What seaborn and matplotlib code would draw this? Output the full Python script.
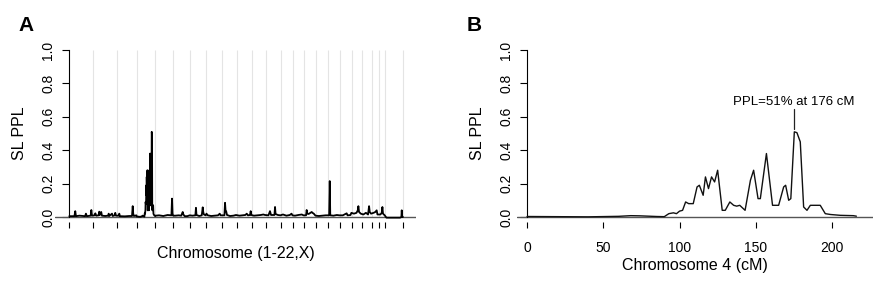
import numpy as np
import matplotlib
matplotlib.use("Agg")
import matplotlib.pyplot as plt
import seaborn as sb

chrom_len = [281, 274, 234, 216, 214, 195, 184, 187, 176, 176, 167, 176,
             137, 132, 140, 137, 144, 137, 117, 117, 77, 78, 207]

# chromosome 4 profile (panel B)
chr4_cm = [0, 20, 40, 60, 68, 74, 85, 90, 93, 96,
           98, 100, 102, 104, 106, 109, 111.5, 113, 115.5, 117,
           119, 121, 123, 125, 128, 130, 133, 135.5, 137.5, 139.5,
           143, 146.5, 148.6, 151.5, 153, 157, 161, 165, 168.3, 169.6,
           171.6, 173, 175.3, 177, 179.2, 181.4, 183.6, 185.8, 192.3, 195.6,
           199, 205.5, 214, 216]
chr4_ppl = [0.003, 0.002, 0.001, 0.004, 0.008, 0.007, 0.003, 0.002, 0.02, 0.025,
            0.02, 0.035, 0.04, 0.09, 0.08, 0.08, 0.18, 0.19, 0.13, 0.24,
            0.17, 0.24, 0.21, 0.28, 0.04, 0.04, 0.09, 0.07, 0.065, 0.07,
            0.04, 0.22, 0.28, 0.11, 0.11, 0.38, 0.07, 0.07, 0.18, 0.19,
            0.10, 0.11, 0.51, 0.505, 0.45, 0.06, 0.04, 0.07, 0.07, 0.02,
            0.015, 0.01, 0.008, 0.005]

# genome-wide scan, all chromosomes except 4 (genome cM, PPL)
gw_pos = [0, 60, 70, 78, 120, 185, 195, 205, 250, 258, 266,
          295, 305, 315, 343, 351, 358, 374, 382, 420, 455, 461, 468, 500, 508, 530, 538, 546,
          578, 585, 592, 650, 700, 734, 742, 748, 756, 785,
          1010, 1050, 1100, 1150, 1195, 1202, 1208, 1215,
          1240, 1280, 1310, 1320, 1327, 1335, 1350, 1380, 1410,
          1440, 1475, 1482, 1488, 1520, 1550, 1561, 1567, 1575, 1595,
          1605, 1620, 1660, 1700, 1740, 1760, 1770,
          1815, 1822, 1828, 1835, 1845, 1880, 1920, 1950,
          1990, 2030, 2060, 2076, 2090, 2114, 2122, 2130,
          2160, 2200, 2240, 2270, 2290,
          2330, 2348, 2360, 2400, 2407, 2413, 2440, 2470,
          2500, 2540, 2580, 2600, 2610,
          2640, 2680, 2720, 2740,
          2770, 2777, 2785, 2800, 2836, 2845, 2860, 2880,
          2920, 2960, 3000, 3020,
          3040, 3047, 3053, 3090, 3130, 3160,
          3200, 3245, 3255, 3290, 3300,
          3330, 3360, 3375, 3382, 3390, 3410,
          3440, 3470, 3495, 3507, 3515, 3530,
          3560, 3580, 3596, 3605,
          3640, 3655, 3663, 3670, 3690,
          3710, 3800, 3870, 3885, 3889, 3895, 3903]
gw_ppl = [0.005, 0.005, 0.035, 0.005, 0.008, 0.005, 0.02, 0.005, 0.008, 0.042, 0.008,
          0.01, 0.022, 0.008, 0.01, 0.032, 0.012, 0.03, 0.008, 0.006, 0.008, 0.02, 0.006, 0.02, 0.006, 0.01, 0.025, 0.008,
          0.008, 0.02, 0.005, 0.004, 0.006, 0.006, 0.065, 0.02, 0.006, 0.01,
          0.008, 0.01, 0.006, 0.012, 0.01, 0.11, 0.02, 0.008,
          0.008, 0.01, 0.008, 0.02, 0.03, 0.015, 0.005, 0.005, 0.01,
          0.008, 0.01, 0.055, 0.012, 0.006, 0.01, 0.058, 0.03, 0.015, 0.01,
          0.02, 0.01, 0.006, 0.008, 0.01, 0.02, 0.01,
          0.01, 0.085, 0.04, 0.035, 0.012, 0.006, 0.008, 0.012,
          0.008, 0.01, 0.012, 0.02, 0.01, 0.012, 0.035, 0.012,
          0.008, 0.01, 0.012, 0.015, 0.012,
          0.01, 0.035, 0.012, 0.012, 0.06, 0.018, 0.012, 0.01,
          0.015, 0.008, 0.012, 0.02, 0.01,
          0.008, 0.012, 0.015, 0.01,
          0.01, 0.042, 0.02, 0.018, 0.03, 0.025, 0.02, 0.008,
          0.006, 0.008, 0.01, 0.01,
          0.01, 0.215, 0.01, 0.008, 0.012, 0.01,
          0.01, 0.022, 0.01, 0.012, 0.025,
          0.02, 0.025, 0.04, 0.065, 0.03, 0.02,
          0.015, 0.025, 0.015, 0.065, 0.03, 0.02,
          0.025, 0.03, 0.04, 0.015,
          0.015, 0.025, 0.06, 0.02, 0.01,
          -0.004, -0.004, -0.004, 0.0, 0.04, 0.0, 0.0]

peak_cm = 175
peak_label = "PPL=51% at 176 cM"

bounds = np.concatenate([[0], np.cumsum(chrom_len)])
chr4_start = bounds[3]

# merge chr4 into genome-wide scan
all_pos = np.array(gw_pos + [p + chr4_start for p in chr4_cm], dtype=float)
all_ppl = np.array(gw_ppl + chr4_ppl, dtype=float)
order = np.argsort(all_pos, kind="stable")
all_pos, all_ppl = all_pos[order], all_ppl[order]

sb.set_style("white")
plt.rcParams['font.family'] = ['Liberation Sans', 'DejaVu Sans']
plt.rcParams['text.color'] = 'black'
plt.rcParams['axes.labelcolor'] = 'black'
plt.rcParams['xtick.color'] = 'black'
plt.rcParams['ytick.color'] = 'black'

W, H = 892, 288
fig = plt.figure(figsize=(W / 100, H / 100), dpi=100)
bot, top = 222, 44
axA = fig.add_axes([55 / W, 1 - bot / H, (416 - 55) / W, (bot - top) / H])
axB = fig.add_axes([517 / W, 1 - bot / H, (873 - 517) / W, (bot - top) / H])

ylim = (-(bot - 217) / 167, 1 + (50 - top) / 167)

for ax in (axA, axB):
    ax.set_facecolor('white')
    ax.set_ylim(*ylim)
    ax.axhline(0, color='#555555', lw=1.0, zorder=1)
    for s in ('top', 'right', 'bottom'):
        ax.spines[s].set_visible(False)
    ax.spines['left'].set_position(('data', 0))
    ax.spines['left'].set_bounds(0, 1)
    ax.spines['left'].set_color('black')
    ax.spines['left'].set_linewidth(0.8)
    ax.set_yticks([0, 0.2, 0.4, 0.6, 0.8, 1.0])
    ax.set_yticklabels(['0.0', '0.2', '0.4', '0.6', '0.8', '1.0'],
                       rotation=90, va='center')
    ax.tick_params(axis='y', direction='out', length=5, width=0.8,
                   labelsize=10, pad=5, left=True, color='black')
    ax.tick_params(axis='x', direction='out', length=4.5, width=0.8,
                   labelsize=10, bottom=True, color='black')
    ax.set_ylabel('SL PPL', fontsize=11.5, labelpad=10)

# panel A
axA.set_xlim(-167, 4056)
axA.vlines(bounds[1:], 0, 1, color='#e4e4e4', lw=0.8, zorder=0)
sb.lineplot(x=all_pos, y=all_ppl, ax=axA, color='black', lw=1.3,
            estimator=None, sort=False, zorder=3)
axA.set_xticks(bounds)
axA.set_xticklabels([])
axA.set_xlabel('Chromosome (1-22,X)', fontsize=11.5)
axA.xaxis.set_label_coords(0.5, -0.135)

# panel B
axB.set_xlim(-6.6, 226.9)
sb.lineplot(x=chr4_cm, y=chr4_ppl, ax=axB, color='#111111', lw=1.0,
            estimator=None, sort=False, zorder=3)
axB.set_xticks([0, 50, 100, 150, 200])
axB.set_xticklabels(['0', '50', '100', '150', '200'])
axB.tick_params(axis='x', pad=9.5)
axB.set_xlabel('Chromosome 4 (cM)', fontsize=11.5)
axB.xaxis.set_label_coords(0.5, -0.205)
axB.plot([peak_cm, peak_cm], [0.525, 0.645], color='#222222', lw=0.9)
axB.text(peak_cm, 0.69, peak_label, ha='center', va='center', fontsize=9.5)

fig.text(18 / W, 1 - 16 / H, 'A', fontsize=15, fontweight='bold', va='top', ha='left')
fig.text(467 / W, 1 - 16 / H, 'B', fontsize=15, fontweight='bold', va='top', ha='left')

fig.savefig('out.png', dpi=100, facecolor='white')
